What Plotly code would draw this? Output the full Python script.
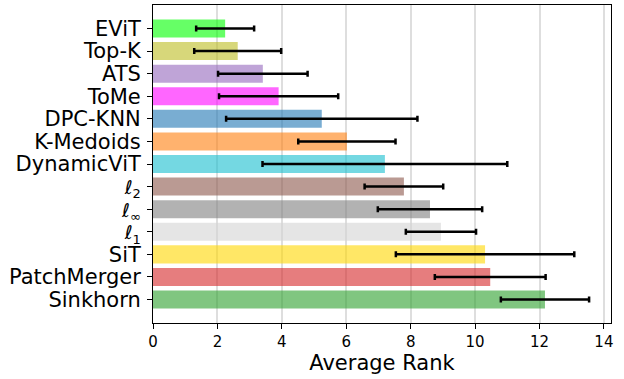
import plotly.graph_objects as go

# Methods, ordered from best (top) to worst (bottom) average rank
methods = ["EViT", "Top-K", "ATS", "ToMe", "DPC-KNN", "K-Medoids", "DynamicViT",
           "<i>ℓ</i><sub>2</sub>", "<i>ℓ</i><sub>∞</sub>", "<i>ℓ</i><sub>1</sub>",
           "SiT", "PatchMerger", "Sinkhorn"]
avg_rank = [2.24, 2.63, 3.41, 3.90, 5.24, 6.02, 7.20, 7.79, 8.60, 8.94, 10.31, 10.47, 12.17]
rank_std = [0.90, 1.35, 1.39, 1.85, 2.97, 1.51, 3.80, 1.22, 1.62, 1.09, 2.77, 1.72, 1.37]
x_ticks = [0, 2, 4, 6, 8, 10, 12, 14]

# Base colours per method (drawn with 60% alpha)
base_colors = [(0, 255, 0), (188, 189, 34), (148, 103, 189), (255, 0, 255),
               (31, 119, 180), (255, 127, 14), (23, 190, 207), (140, 86, 75),
               (127, 127, 127), (211, 211, 211), (255, 215, 0), (214, 39, 40),
               (44, 160, 44)]
bar_colors = [f"rgba({r},{g},{b},0.6)" for r, g, b in base_colors]

FONT = "DejaVu Sans"


def norm_label(label):
    # Slightly smaller script-ell and subscript for the norm labels
    if "<sub>" not in label:
        return label
    return (label.replace("<i>ℓ</i>", "<span style='font-size:19px'><i>ℓ</i></span>")
                 .replace("<sub>", "<sub><span style='font-size:13px'>")
                 .replace("</sub>", "</span></sub>"))


tick_text = [norm_label(m) for m in methods]

fig = go.Figure(go.Bar(
    x=avg_rank,
    y=methods,
    orientation="h",
    marker=dict(color=bar_colors, line=dict(width=0)),
    error_x=dict(type="data", array=rank_std, color="black",
                 thickness=2.5, width=3),
))

fig.update_layout(
    width=624, height=379,
    margin=dict(l=153, r=13, t=5, b=56),
    plot_bgcolor="white", paper_bgcolor="white",
    bargap=0.2,
    showlegend=False,
    font=dict(family=FONT, color="black"),
)

fig.update_xaxes(
    range=[0, 14.22],
    tickmode="array", tickvals=x_ticks,
    ticks="outside", ticklen=5, tickwidth=1, tickcolor="black",
    tickfont=dict(size=15, family=FONT, color="black"),
    showgrid=True, gridcolor="rgba(200,200,200,0.6)", gridwidth=1.5,
    zeroline=False,
    showline=True, linecolor="black", linewidth=1, mirror=True,
    title=dict(text="Average Rank", font=dict(size=21, family=FONT, color="black"),
               standoff=5),
)

fig.update_yaxes(
    categoryorder="array", categoryarray=methods,
    tickmode="array", tickvals=methods, ticktext=tick_text,
    range=[13.04, -1.04],
    ticks="outside", ticklen=5, tickwidth=1, tickcolor="black",
    tickfont=dict(size=21, family=FONT, color="black"),
    ticklabelstandoff=2,
    showgrid=False, zeroline=False,
    showline=True, linecolor="black", linewidth=1, mirror=True,
)

fig.write_html("out.html")
